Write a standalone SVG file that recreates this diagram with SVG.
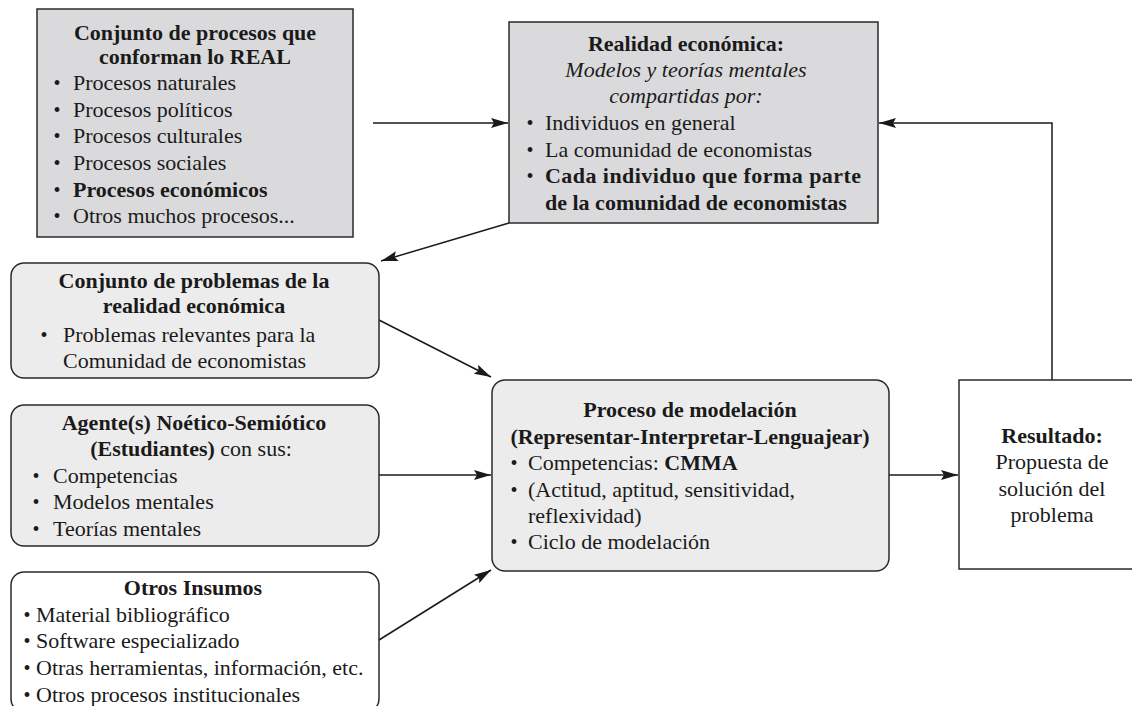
<svg xmlns="http://www.w3.org/2000/svg" width="1132" height="706" viewBox="0 0 1132 706">
<style>
.t{font-family:"Liberation Serif","Times New Roman",serif;font-size:22px;fill:#1a1a1a}
.c{text-anchor:middle}
.b{font-weight:bold}
.i{font-style:italic}
.bu{font-family:"Liberation Serif","Times New Roman",serif;font-size:20px;fill:#1a1a1a;text-anchor:middle}
.box{stroke:#2a2a2a;stroke-width:1.5}
.con{stroke:#1a1a1a;stroke-width:1.5;fill:none}
</style>
<defs>
<marker id="ah" viewBox="0 0 17 10" markerWidth="17" markerHeight="10" refX="17" refY="5" orient="auto" markerUnits="userSpaceOnUse">
<path d="M0,0 L17,5 L0,10 L3,5 z" fill="#1a1a1a"/>
</marker>
</defs>

<g id="connectors">
<line class="con" x1="373" y1="123" x2="508" y2="123" marker-end="url(#ah)"/>
<polyline class="con" points="1052,380 1052,123 879,123" marker-end="url(#ah)"/>
<line class="con" x1="509" y1="223" x2="381" y2="261" marker-end="url(#ah)"/>
<line class="con" x1="379" y1="320" x2="491" y2="377" marker-end="url(#ah)"/>
<line class="con" x1="379" y1="475" x2="491" y2="475" marker-end="url(#ah)"/>
<line class="con" x1="379" y1="640" x2="491" y2="570" marker-end="url(#ah)"/>
<line class="con" x1="889" y1="475" x2="958" y2="475" marker-end="url(#ah)"/>
</g>

<g id="real">
<rect class="box" x="37" y="9" width="316" height="228" fill="#dadadc"/>
<text class="t c b" x="195" y="40">Conjunto de procesos que</text>
<text class="t c b" x="195" y="64">conforman lo REAL</text>
<text class="bu" x="57" y="90">•</text><text class="t" x="73" y="90">Procesos naturales</text>
<text class="bu" x="57" y="117">•</text><text class="t" x="73" y="117">Procesos políticos</text>
<text class="bu" x="57" y="143">•</text><text class="t" x="73" y="143">Procesos culturales</text>
<text class="bu" x="57" y="170">•</text><text class="t" x="73" y="170">Procesos sociales</text>
<text class="bu" x="57" y="197">•</text><text class="t b" x="73" y="197">Procesos económicos</text>
<text class="bu" x="57" y="223">•</text><text class="t" x="73" y="223">Otros muchos procesos...</text>
</g>

<g id="realidad">
<rect class="box" x="509" y="22" width="369" height="201" fill="#dadadc"/>
<text class="t c b" x="686" y="51">Realidad económica:</text>
<text class="t c i" x="686" y="77">Modelos y teorías mentales</text>
<text class="t c i" x="686" y="103">compartidas por:</text>
<text class="bu" x="530" y="130">•</text><text class="t" x="545" y="130">Individuos en general</text>
<text class="bu" x="530" y="157">•</text><text class="t" x="545" y="157">La comunidad de economistas</text>
<text class="bu" x="530" y="183">•</text><text class="t b" x="545" y="183" textLength="316" lengthAdjust="spacing">Cada individuo que forma parte</text>
<text class="t b" x="545" y="210">de la comunidad de economistas</text>
</g>

<g id="problemas">
<rect class="box" x="11" y="263" width="368" height="115" rx="13" fill="#ececec"/>
<text class="t c b" x="194" y="288">Conjunto de problemas de la</text>
<text class="t c b" x="194" y="313">realidad económica</text>
<text class="bu" x="44" y="342">•</text><text class="t" x="63" y="342">Problemas relevantes para la</text>
<text class="t" x="63" y="368">Comunidad de economistas</text>
</g>

<g id="agente">
<rect class="box" x="11" y="405" width="368" height="141" rx="13" fill="#ececec"/>
<text class="t c b" x="194" y="430">Agente(s) Noético-Semiótico</text>
<text class="t c" x="191" y="456"><tspan class="b">(Estudiantes)</tspan> con sus:</text>
<text class="bu" x="36" y="483">•</text><text class="t" x="53" y="483">Competencias</text>
<text class="bu" x="36" y="509">•</text><text class="t" x="53" y="509">Modelos mentales</text>
<text class="bu" x="36" y="536">•</text><text class="t" x="53" y="536">Teorías mentales</text>
</g>

<g id="insumos">
<rect class="box" x="11" y="572" width="368" height="140" rx="13" fill="#ffffff"/>
<text class="t c b" x="193" y="595">Otros Insumos</text>
<text class="bu" x="27" y="622">•</text><text class="t" x="36" y="622">Material bibliográfico</text>
<text class="bu" x="27" y="648">•</text><text class="t" x="36" y="648">Software especializado</text>
<text class="bu" x="27" y="675">•</text><text class="t" x="36" y="675">Otras herramientas, información, etc.</text>
<text class="bu" x="27" y="702">•</text><text class="t" x="36" y="702">Otros procesos institucionales</text>
</g>

<g id="modelacion">
<rect class="box" x="492" y="380" width="397" height="191" rx="13" fill="#ececec"/>
<text class="t c b" x="690" y="417">Proceso de modelación</text>
<text class="t c b" x="690" y="444">(Representar-Interpretar-Lenguajear)</text>
<text class="bu" x="514" y="470">•</text><text class="t" x="528" y="470">Competencias: <tspan class="b">CMMA</tspan></text>
<text class="bu" x="514" y="497">•</text><text class="t" x="528" y="497">(Actitud, aptitud, sensitividad,</text>
<text class="t" x="528" y="523">reflexividad)</text>
<text class="bu" x="514" y="549">•</text><text class="t" x="528" y="549">Ciclo de modelación</text>
</g>

<g id="resultado">
<rect class="box" x="959" y="380" width="190" height="189" fill="#ffffff"/>
<text class="t c b" x="1052" y="443">Resultado:</text>
<text class="t c" x="1052" y="469">Propuesta de</text>
<text class="t c" x="1052" y="496">solución del</text>
<text class="t c" x="1052" y="522">problema</text>
</g>
</svg>
